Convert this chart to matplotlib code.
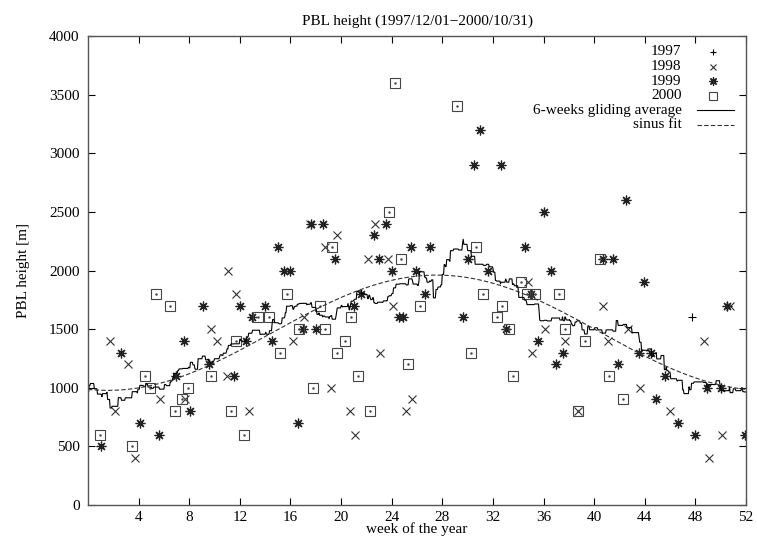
import numpy as np
from matplotlib import pyplot as plt

plt.rcParams['font.family'] = ['Liberation Serif', 'DejaVu Serif']
plt.rcParams['font.size'] = 11

# week of the year / PBL height [m], per year
w1997 = [47.7]
h1997 = [1600]

w1998 = [1.7, 2.17, 3.16, 3.75, 5.7, 7.7, 9.7, 10.17, 11.0, 11.1, 11.7, 12.7,
         16.2, 17.1, 17.55, 18.7, 19.2, 19.7, 20.7, 21.1, 22.1, 22.7, 23.1, 23.7,
         24.1, 25.1, 25.6, 34.75, 35.05, 36.1, 37.7, 38.7, 40.7, 41.1, 42.7, 43.65,
         46.0, 48.7, 49.05, 50.1, 50.7]
h1998 = [1400, 800, 1200, 400, 900, 900, 1500, 1400, 1100, 2000, 1800, 800,
         1400, 1600, 2400, 2200, 1000, 2300, 800, 600, 2100, 2400, 1300, 2100,
         1700, 800, 900, 1900, 1300, 1500, 1400, 800, 1700, 1400, 1500, 1000,
         800, 1400, 400, 600, 1700]

w1999 = [1.05, 2.64, 4.08, 5.65, 6.95, 7.6, 8.05, 9.05, 9.57, 11.5, 12.05, 12.5,
         12.97, 14.0, 14.55, 15.0, 15.5, 16.0, 16.6, 17.0, 17.6, 18.05, 18.6, 19.55,
         21.0, 21.6, 22.6, 23.0, 23.55, 24.0, 24.6, 24.9, 25.5, 25.9, 26.6, 27.0,
         29.6, 30.0, 30.5, 31.0, 31.6, 32.6, 33.0, 34.5, 35.0, 35.6, 36.0, 36.6,
         37.0, 37.5, 40.7, 41.5, 41.9, 42.5, 43.55, 43.95, 44.5, 44.9, 45.6, 46.6,
         47.95, 48.9, 50.0, 50.5, 51.9]
h1999 = [500, 1300, 700, 600, 1100, 1400, 800, 1700, 1200, 1100, 1700, 1400,
         1600, 1700, 1400, 2200, 2000, 2000, 700, 1500, 2400, 1500, 2400, 2100,
         1700, 1800, 2300, 2100, 2400, 2000, 1600, 1600, 2200, 2000, 1800, 2200,
         1600, 2100, 2900, 3200, 2000, 2900, 1500, 2200, 1800, 1400, 2500, 2000,
         1200, 1300, 2100, 2100, 1200, 2600, 1300, 1900, 1300, 900, 1100, 700,
         600, 1000, 1000, 1700, 600]

w2000 = [0.92, 3.48, 4.47, 4.9, 5.4, 6.5, 6.88, 7.4, 7.9, 9.7, 11.3, 11.7,
         12.3, 13.4, 14.3, 15.2, 15.7, 16.7, 17.75, 18.3, 18.7, 19.3, 19.7, 20.3,
         20.75, 21.3, 22.3, 23.75, 24.25, 24.7, 25.3, 26.25, 29.2, 30.3, 30.7, 31.25,
         32.3, 32.7, 33.3, 33.6, 34.25, 34.7, 35.3, 37.25, 37.7, 38.7, 39.3, 40.5,
         41.2, 42.25]
h2000 = [600, 500, 1100, 1000, 1800, 1700, 800, 900, 1000, 1100, 800, 1400,
         600, 1600, 1600, 1300, 1800, 1500, 1000, 1700, 1500, 2200, 1300, 1400,
         1600, 1100, 800, 2500, 3600, 2100, 1200, 1700, 3400, 1300, 2200, 1800,
         1600, 1700, 1500, 1100, 1900, 1800, 1800, 1800, 1500, 800, 1400, 2100,
         1100, 900]

xticks = list(range(4, 53, 4))
yticks = list(range(0, 4001, 500))

wall = np.array(w1997 + w1998 + w1999 + w2000)
hall = np.array(h1997 + h1998 + h1999 + h2000, dtype=float)

# 6-weeks gliding average (cyclic over the year)
grid = np.linspace(0, 52, 1041)
avg = []
for g in grid:
    d = np.abs(wall - g)
    d = np.minimum(d, 52 - d)
    avg.append(hall[d <= 3].mean())

# sinus fit
A = np.column_stack([np.ones_like(wall), np.sin(2*np.pi*wall/52), np.cos(2*np.pi*wall/52)])
coef = np.linalg.lstsq(A, hall, rcond=None)[0]
fit = coef[0] + coef[1]*np.sin(2*np.pi*grid/52) + coef[2]*np.cos(2*np.pi*grid/52)

fig = plt.figure(figsize=(7.57, 5.42), dpi=100)
ax = fig.add_axes([88/757, 1-505/542, 658/757, 469/542])

ax.plot(w1997, h1997, ls='none', marker='+', ms=6, mew=0.8, color='black')
ax.plot(w1998, h1998, ls='none', marker='x', ms=6, mew=0.8, color='#333333')
ax.plot(w1999, h1999, ls='none', marker=(8, 2, 0), ms=7, mew=0.9, color='#222222')
ax.plot(w2000, h2000, ls='none', marker='s', ms=6.5, mew=0.8, mfc='none', color='#444444')
ax.plot(w2000, h2000, ls='none', marker='.', ms=1.5, color='#444444')
ax.plot(grid, avg, color='black', lw=0.8)
ax.plot(grid, fit, color='#333333', lw=0.8, dashes=(4, 2))

ax.set_xlim(0, 52)
ax.set_ylim(0, 4000)
ax.set_xticks(xticks)
ax.set_yticks(yticks)
ax.tick_params(direction='in', top=True, right=True, length=5, width=0.8, labelsize=11)
ax.tick_params(axis='y', pad=6)
ax.tick_params(axis='x', pad=4)
for s in ax.spines.values():
    s.set_linewidth(1.0)
    s.set_color('#555555')

ax.set_title('PBL height (1997/12/01\u22122000/10/31)', fontsize=11, pad=8)
ax.set_xlabel('week of the year', fontsize=11, labelpad=-1)
ax.set_ylabel('PBL height [m]', fontsize=11, labelpad=14)

# gnuplot style key: text right aligned, sample on the right
labels = ['1997', '1998', '1999', '2000', '6-weeks gliding average', 'sinus fit']
ky = [0.966 - 0.0311*i for i in range(6)]
for i, lab in enumerate(labels):
    ax.text(0.902, ky[i], lab, transform=ax.transAxes, ha='right', va='center', fontsize=11)
ax.plot([0.950], [ky[0]], transform=ax.transAxes, marker='+', ms=5, mew=0.8, color='black')
ax.plot([0.950], [ky[1]], transform=ax.transAxes, marker='x', ms=5, mew=0.8, color='#333333')
ax.plot([0.950], [ky[2]], transform=ax.transAxes, marker=(8, 2, 0), ms=6, mew=0.9, color='#222222')
ax.plot([0.950], [ky[3]], transform=ax.transAxes, marker='s', ms=5.5, mew=0.8, mfc='none', color='#444444')
ax.plot([0.926, 0.982], [ky[4]]*2, transform=ax.transAxes, color='black', lw=0.8)
ax.plot([0.926, 0.982], [ky[5]]*2, transform=ax.transAxes, color='#333333', lw=0.8, dashes=(4, 2))

fig.savefig('out.png', dpi=100)
